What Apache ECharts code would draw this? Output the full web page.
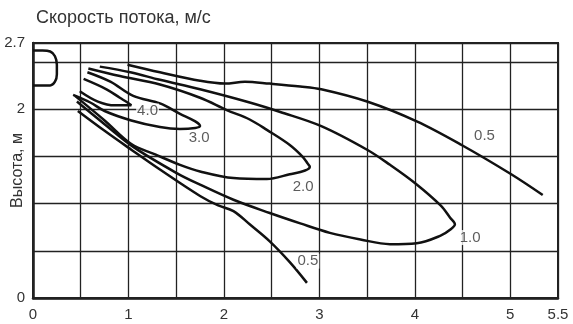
<!DOCTYPE html>
<html>
<head>
<meta charset="utf-8">
<script src="https://cdn.jsdelivr.net/npm/echarts@6/dist/echarts.min.js"></script>
<style>html,body{margin:0;padding:0;background:#fff}#c{width:573px;height:324px}</style>
</head>
<body>
<div id="c"></div>
<script>
// ---- Data (x: distance, y: height in m) ----
const titleText = 'Скорость потока, м/с';
const yName = 'Высота, м';
const xLabelValues = [0, 1, 2, 3, 4, 5, 5.5];
const yLabelValues = [0, 2, 2.7];

// contour 0.5 m/s, upper branch
const contour05Upper = [[0.99,2.47],[1.33,2.39],[1.75,2.30],[2.01,2.27],[2.22,2.29],[2.48,2.27],[2.80,2.24],[3.02,2.21],[3.50,2.08],[4.02,1.87],[4.49,1.62],[5.01,1.31],[5.34,1.09]];
// contour 0.5 m/s, lower branch
const contour05Lower = [[0.47,1.98],[0.75,1.77],[1.03,1.57],[1.33,1.36],[1.75,1.08],[1.94,0.98],[2.10,0.92],[2.27,0.78],[2.48,0.60],[2.69,0.38],[2.87,0.16]];
// contour 1.0 m/s
const contour10 = [[0.70,2.45],[1.02,2.39],[1.33,2.31],[1.75,2.21],[2.27,2.07],[2.59,1.97],[3.02,1.82],[3.50,1.57],[3.74,1.41],[4.01,1.21],[4.27,0.98],[4.37,0.85],[4.42,0.78],[4.38,0.73],[4.27,0.66],[4.02,0.58],[3.74,0.57],[3.43,0.62],[3.11,0.69],[2.80,0.79],[2.48,0.90],[2.10,1.04],[1.75,1.20],[1.51,1.32],[1.05,1.60],[0.75,1.84],[0.46,2.08]];
// contour 2.0 m/s
const contour20 = [[0.58,2.43],[0.91,2.35],[1.33,2.26],[1.75,2.12],[2.03,1.99],[2.27,1.89],[2.45,1.78],[2.69,1.62],[2.83,1.49],[2.88,1.42],[2.90,1.39],[2.85,1.35],[2.69,1.31],[2.45,1.26],[2.10,1.27],[1.75,1.34],[1.54,1.41],[1.28,1.52],[1.03,1.63],[0.75,1.88],[0.44,2.14]];
// contour 3.0 m/s
const contour30 = [[0.57,2.39],[0.81,2.29],[1.05,2.14],[1.33,2.06],[1.54,1.95],[1.70,1.87],[1.75,1.82],[1.70,1.80],[1.54,1.79],[1.33,1.81],[1.03,1.88],[0.75,1.98],[0.60,2.07],[0.42,2.15]];
// contour 4.0 m/s
const contour40 = [[0.53,2.32],[0.77,2.21],[0.91,2.12],[0.99,2.07],[1.03,2.04],[0.96,2.04],[0.86,2.04],[0.68,2.08],[0.49,2.19]];
// outlet contour at top-left
const outletLoop = [[0.0,2.62],[0.10,2.62],[0.18,2.61],[0.23,2.56],[0.25,2.47],[0.25,2.37],[0.23,2.29],[0.18,2.25],[0.0,2.25]];
// contour value labels
const contourLabels = [
  {name:'4.0', value:[1.20,1.98]},
  {name:'3.0', value:[1.74,1.70]},
  {name:'2.0', value:[2.83,1.18]},
  {name:'1.0', value:[4.58,0.64]},
  {name:'0.5', value:[4.73,1.72]},
  {name:'0.5', value:[2.88,0.39]}
];

const FONT = 'Liberation Sans, Arial, sans-serif';
const near = (a, b) => Math.abs(a - b) < 1e-6;

function lineSeries(data) {
  return {
    type: 'line', data: data, smooth: 0.35, symbol: 'none', z: 3,
    lineStyle: { color: '#111', width: 2.5 }, silent: true, animation: false
  };
}

const chart = echarts.init(document.getElementById('c'), null, { renderer: 'canvas' });
chart.setOption({
  animation: false,
  backgroundColor: '#fff',
  title: {
    text: titleText, left: 36, top: 9, padding: 0,
    textStyle: { fontFamily: FONT, fontSize: 18, fontWeight: 'normal', color: '#333' }
  },
  grid: { left: 33, right: 15, top: 43, bottom: 26, show: true, borderColor: '#222', borderWidth: 2, backgroundColor: 'transparent', containLabel: false, outerBoundsMode: 'none' },
  xAxis: {
    type: 'value', min: 0, max: 5.5, interval: 0.5,
    axisLine: { show: true, lineStyle: { color: '#222', width: 2.5 } },
    axisTick: { show: false },
    splitLine: { show: true, lineStyle: { color: '#222', width: 1.3 } },
    axisLabel: {
      margin: 9, fontFamily: FONT, fontSize: 15, color: '#333', showMaxLabel: true, showMinLabel: true,
      formatter: v => xLabelValues.some(t => near(t, v)) ? String(v) : ''
    }
  },
  yAxis: {
    type: 'value', min: 0, max: 2.7, interval: 0.5,
    name: yName, nameLocation: 'middle', nameRotate: 90, nameGap: 7, nameMoveOverlap: false,
    nameTextStyle: { fontFamily: FONT, fontSize: 16, color: '#333' },
    axisLine: { show: true, lineStyle: { color: '#222', width: 2.5 } },
    axisTick: { show: false },
    splitLine: { show: true, lineStyle: { color: '#222', width: 1.3 } },
    axisLabel: {
      margin: 8, fontFamily: FONT, fontSize: 15, color: '#333', showMaxLabel: true, showMinLabel: true,
      formatter: v => yLabelValues.some(t => near(t, v)) ? String(v) : ''
    }
  },
  series: [
    lineSeries(outletLoop),
    lineSeries(contour05Upper),
    lineSeries(contour05Lower),
    lineSeries(contour10),
    lineSeries(contour20),
    lineSeries(contour30),
    lineSeries(contour40),
    {
      type: 'scatter', data: contourLabels, symbolSize: 1, z: 5, silent: true,
      itemStyle: { color: 'rgba(0,0,0,0)' },
      label: {
        show: true, position: 'inside', formatter: p => p.name,
        fontFamily: FONT, fontSize: 15, color: '#333',
        backgroundColor: '#fff', padding: [0, 1]
      }
    }
  ]
});
</script>
</body>
</html>
